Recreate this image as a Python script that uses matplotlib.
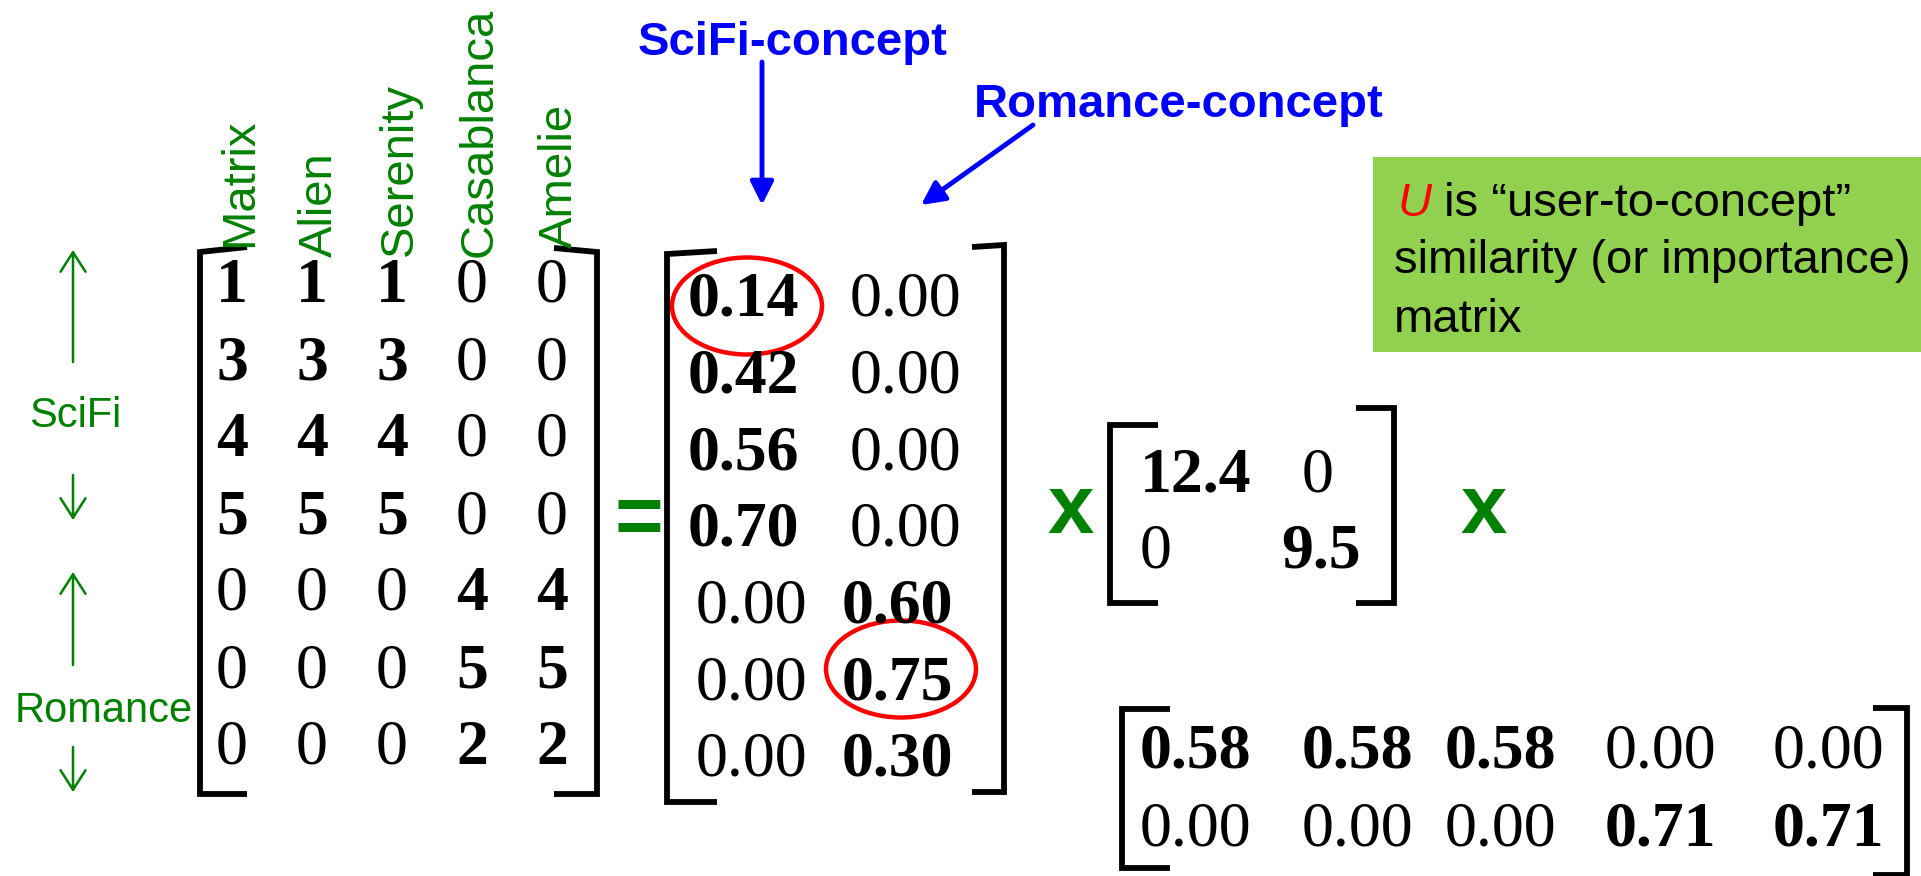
import matplotlib
matplotlib.use("Agg")
import matplotlib.pyplot as plt
from matplotlib.patches import Ellipse, Rectangle

# ---------------- data ----------------
movies = ["Matrix", "Alien", "Serenity", "Casablanca", "Amelie"]
ratings = [[1, 1, 1, 0, 0],
           [3, 3, 3, 0, 0],
           [4, 4, 4, 0, 0],
           [5, 5, 5, 0, 0],
           [0, 0, 0, 4, 4],
           [0, 0, 0, 5, 5],
           [0, 0, 0, 2, 2]]
U = [[0.14, 0.00],
     [0.42, 0.00],
     [0.56, 0.00],
     [0.70, 0.00],
     [0.00, 0.60],
     [0.00, 0.75],
     [0.00, 0.30]]
sigma = [12.4, 9.5]
VT = [[0.58, 0.58, 0.58, 0.00, 0.00],
      [0.00, 0.00, 0.00, 0.71, 0.71]]
groups = ["SciFi", "Romance"]
concepts = ["SciFi-concept", "Romance-concept"]
circled = [(0, 0), (5, 1)]  # (row, col) of U entries circled
note_u = "U"
note_rest = " is \u201cuser-to-concept\u201d"
note_lines = ["similarity (or importance)", "matrix"]

# ---------------- style ----------------
GREEN = "#008000"
BLUE = "#0000FF"
RED = "#FF0000"
BOX = "#92D050"
SERIF = "Liberation Serif"
SANS = "Liberation Sans"
NUM_FS = 46

fig = plt.figure(figsize=(19.21, 8.76), dpi=100)
ax = fig.add_axes([0, 0, 1, 1])
ax.set_xlim(0, 1921)
ax.set_ylim(876, 0)
ax.axis("off")


def bracket(xl, tl, bl, tkl, xr, tr, br, tkr, slant_l=0, slant_r=0):
    kw = dict(color="black", lw=4.2, solid_joinstyle="miter", solid_capstyle="butt")
    ax.plot([xl + tkl, xl, xl, xl + tkl], [tl - slant_l, tl, bl, bl], **kw)
    ax.plot([xr - tkr, xr, xr, xr - tkr], [tr - slant_r, tr, br, br], **kw)


def num(x, y, s, bold, ha="center", fs=NUM_FS):
    ax.text(x, y, s, ha=ha, va="center", fontsize=fs, family=SERIF,
            fontweight="bold" if bold else "normal", color="black")


# ---------------- ratings matrix A ----------------
a_x0, a_dx = 232, 80
a_y0, a_dy = 287, 77
for i, row in enumerate(ratings):
    for j, v in enumerate(row):
        num(a_x0 + j * a_dx, a_y0 + i * a_dy, f"{v}", v != 0)
label_bottom = [247, 257, 256, 257, 248]
for j, m in enumerate(movies):
    ax.text(a_x0 + 8 + j * a_dx, label_bottom[j], m, rotation=90, ha="center",
            va="bottom", fontsize=34, family=SANS, color=GREEN)
bracket(200, 252, 794, 47, 597, 252, 794, 43, slant_l=5, slant_r=4)

# left group arrows / labels
arr_g = dict(arrowstyle="->,head_length=0.7,head_width=0.45", color=GREEN, lw=1.8,
             mutation_scale=20, shrinkA=0, shrinkB=0)
ax.annotate("", xy=(73, 250), xytext=(73, 362), arrowprops=arr_g)
ax.annotate("", xy=(73, 520), xytext=(73, 475), arrowprops=arr_g)
ax.annotate("", xy=(73, 572), xytext=(73, 665), arrowprops=arr_g)
ax.annotate("", xy=(73, 792), xytext=(73, 747), arrowprops=arr_g)
ax.text(75, 427, groups[0], ha="center", va="baseline", fontsize=30, family=SANS, color=GREEN)
ax.text(104, 722, groups[1], ha="center", va="baseline", fontsize=30, family=SANS, color=GREEN)

# operators
ax.text(639, 522, "=", ha="center", va="center", fontsize=60, family=SANS,
        fontweight="bold", color=GREEN)
ax.text(1071, 511, "x", ha="center", va="center", fontsize=60, family=SANS,
        fontweight="bold", color=GREEN)
ax.text(1484, 511, "x", ha="center", va="center", fontsize=60, family=SANS,
        fontweight="bold", color=GREEN)

# ---------------- U matrix ----------------
u_x = [747, 901]
u_y0, u_dy = 301, 76.6
for i, row in enumerate(U):
    for j, v in enumerate(row):
        bold = v != 0
        dx = -4 if (j == 0 and bold) else (4 if j == 0 else (4 if not bold else -4))
        num(u_x[j] + dx, u_y0 + i * u_dy, f"{v:.2f}", bold)
bracket(667, 254, 802, 50, 1004, 245, 792, 32, slant_l=3, slant_r=-2)
ell_dy = [5, -15]
for k, (r, c) in enumerate(circled):
    ax.add_patch(Ellipse((u_x[c], u_y0 + r * u_dy + ell_dy[k]), 150, 97, fill=False,
                         edgecolor=RED, lw=3.2))

# concept labels + arrows
ax.text(638, 55, concepts[0], ha="left", va="baseline", fontsize=34, family=SANS,
        fontweight="bold", color=BLUE)
ax.text(974, 117, concepts[1], ha="left", va="baseline", fontsize=34, family=SANS,
        fontweight="bold", color=BLUE)
arr_b = dict(arrowstyle="-|>,head_length=0.7,head_width=0.35", color=BLUE, lw=3.5,
             mutation_scale=20, shrinkA=0, shrinkB=0)
ax.annotate("", xy=(762, 205), xytext=(762, 62), arrowprops=arr_b)
ax.annotate("", xy=(921, 205), xytext=(1033, 125), arrowprops=arr_b)

# ---------------- Sigma ----------------
s_y = [477, 553]
num(1140, s_y[0], f"{sigma[0]}", True, ha="left")
num(1318, s_y[0], "0", False)
num(1140, s_y[1], "0", False, ha="left")
num(1321, s_y[1], f"{sigma[1]}", True)
bracket(1110, 425, 603, 48, 1394, 408, 603, 38)

# ---------------- V^T ----------------
v_x = [1195, 1357, 1500, 1660, 1828]
v_y = [753, 830]
for i, row in enumerate(VT):
    for j, v in enumerate(row):
        num(v_x[j], v_y[i], f"{v:.2f}", v != 0)
bracket(1122, 709, 868, 48, 1907, 708, 875, 34)

# ---------------- note box ----------------
ax.add_patch(Rectangle((1373, 157), 1921 - 1373, 195, facecolor=BOX, edgecolor="none"))
tu = ax.text(1397, 216, note_u, ha="left", va="baseline", fontsize=34, family=SANS,
             style="italic", color=RED)
ax.annotate(note_rest, xy=(1, 0), xycoords=tu, ha="left", va="bottom",
            fontsize=34, family=SANS, color="black")
for k, line in enumerate(note_lines):
    ax.text(1394, 273 + 58.5 * k, line, ha="left", va="baseline", fontsize=34,
            family=SANS, color="black")

fig.savefig("out.png", dpi=100)
